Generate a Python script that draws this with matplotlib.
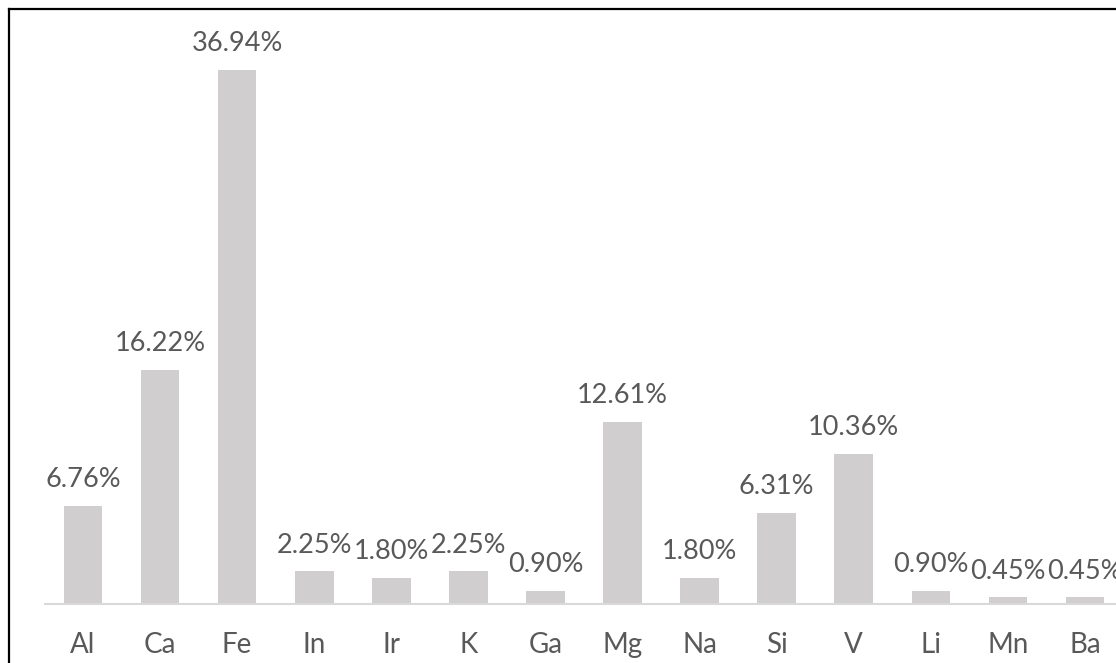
import matplotlib
matplotlib.use("Agg")
import matplotlib.pyplot as plt
from matplotlib.lines import Line2D

categories = ["Al", "Ca", "Fe", "In", "Ir", "K", "Ga", "Mg", "Na", "Si", "V", "Li", "Mn", "Ba"]
values = [6.76, 16.22, 36.94, 2.25, 1.80, 2.25, 0.90, 12.61, 1.80, 6.31, 10.36, 0.90, 0.45, 0.45]
labels = [f"{v:.2f}%" for v in values]

W, H = 1116, 663
fig = plt.figure(figsize=(W / 100, H / 100), dpi=100)
plt.rcParams['font.family'] = ['Lato', 'DejaVu Sans']

left = 44.5 / W
width = 1079 / W
bottom = (H - 604) / H
ytop = 40
height = ytop * 14.456 / H
ax = fig.add_axes([left, bottom, width, height])

x = list(range(len(categories)))
ax.bar(x, values, width=0.5, color="#D0CECE", zorder=2)
ax.set_xlim(-0.5, len(categories) - 0.5)
ax.set_ylim(0, ytop)

for xi, v, lab in zip(x, values, labels):
    ax.annotate(lab, (xi, v), xytext=(0, 19), textcoords="offset points",
                ha="center", va="center", fontsize=19.5, color="#595959")

ax.set_xticks(x)
ax.set_xticklabels(categories, fontsize=20, color="#595959")
ax.tick_params(axis="x", length=0, pad=20)
ax.set_yticks([])
for s in ["left", "right", "top"]:
    ax.spines[s].set_visible(False)
ax.spines["bottom"].set_color("#D9D9D9")
ax.spines["bottom"].set_linewidth(1.5)
ax.patch.set_alpha(0)

# outer chart frame (left and top edges visible)
fig.add_artist(Line2D([8.5 / W, 8.5 / W], [0, 1 - 8.5 / H], transform=fig.transFigure,
                      color="black", lw=1.6))
fig.add_artist(Line2D([8.5 / W, 1], [1 - 8.5 / H, 1 - 8.5 / H], transform=fig.transFigure,
                      color="black", lw=1.6))

fig.savefig("out.png", dpi=100)
